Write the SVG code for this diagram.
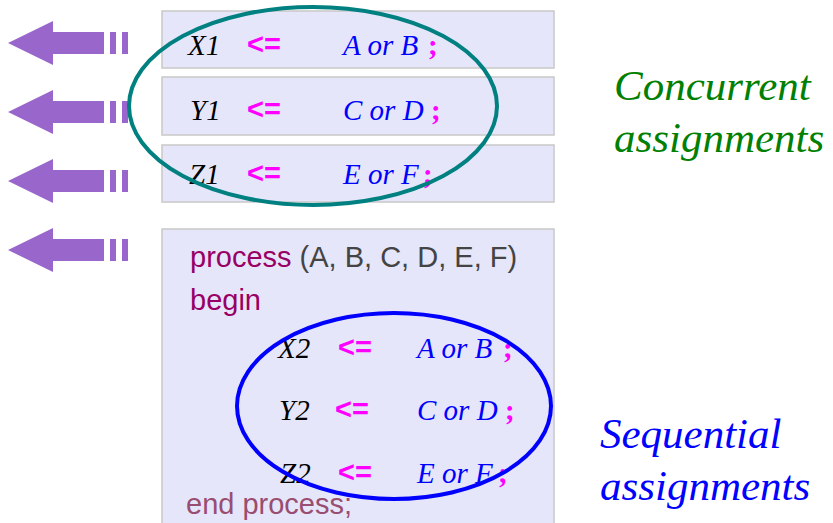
<svg xmlns="http://www.w3.org/2000/svg" width="833" height="523" viewBox="0 0 833 523">
<defs>
<style>
.box{fill:#e6e6fa;stroke:#c8c8c8;stroke-width:1.5}
.arr{fill:#9966cc}
.var{font-family:"Liberation Serif",serif;font-style:italic;font-size:29px;fill:#000}
.op{font-family:"Liberation Sans",sans-serif;font-weight:bold;font-size:29px;fill:#ff00ff}
.expr{font-family:"Liberation Serif",serif;font-style:italic;font-size:29px;fill:#0000ff}
.semi{font-family:"Liberation Serif",serif;font-weight:bold;font-size:29px;fill:#ff00ff}
.kw{font-family:"Liberation Sans",sans-serif;font-size:29px;fill:#990066}
.lbl{font-family:"Liberation Serif",serif;font-style:italic;font-size:43px}
</style>
<g id="arrowShape">
<polygon points="8,0 53,-22 53,-11 104,-11 104,11 53,11 53,22"/>
<rect x="110" y="-11" width="6" height="22"/>
<rect x="122" y="-11" width="6" height="22"/>
</g>
</defs>
<rect width="833" height="523" fill="#fff"/>
<g id="arrows" class="arr">
<use href="#arrowShape" y="43"/>
<use href="#arrowShape" y="112"/>
<use href="#arrowShape" y="181"/>
<use href="#arrowShape" y="250"/>
</g>
<g id="box-x1">
<rect class="box" x="162" y="11" width="392" height="57"/>
<text class="var" x="188" y="55">X1</text>
<text class="op" x="247" y="54">&lt;=</text>
<text class="expr" x="343" y="55">A or B</text>
<text class="semi" x="428" y="55">;</text>
</g>
<g id="box-y1">
<rect class="box" x="162" y="77" width="392" height="58"/>
<text class="var" x="190" y="120">Y1</text>
<text class="op" x="247" y="119">&lt;=</text>
<text class="expr" x="343" y="120">C or D</text>
<text class="semi" x="431" y="120">;</text>
</g>
<g id="box-z1">
<rect class="box" x="162" y="145" width="392" height="57"/>
<text class="var" x="189" y="184">Z1</text>
<text class="op" x="247" y="183">&lt;=</text>
<text class="expr" x="343" y="184">E or F</text>
<text class="semi" x="423" y="184">;</text>
</g>
<g id="process-box">
<rect class="box" x="162" y="229" width="392" height="300"/>
<text class="kw" x="190" y="267">process <tspan fill="#444444">(A, B, C, D, E, F)</tspan></text>
<text class="kw" x="190" y="310">begin</text>
<text class="var" x="278" y="358">X2</text>
<text class="op" x="338" y="357">&lt;=</text>
<text class="expr" x="417" y="358">A or B</text>
<text class="semi" x="503" y="358">;</text>
<text class="var" x="279" y="420">Y2</text>
<text class="op" x="335" y="419">&lt;=</text>
<text class="expr" x="417" y="420">C or D</text>
<text class="semi" x="505" y="420">;</text>
<text class="var" x="280" y="483">Z2</text>
<text class="op" x="338" y="482">&lt;=</text>
<text class="expr" x="417" y="483">E or F</text>
<text class="semi" x="498" y="483">;</text>
<text class="kw" x="186" y="514" style="fill:#994d70">end process;</text>
</g>
<g id="concurrent-ellipse">
<ellipse cx="313" cy="106" rx="184" ry="99" fill="none" stroke="#008080" stroke-width="4"/>
</g>
<g id="sequential-ellipse">
<ellipse cx="394" cy="406" rx="157" ry="93" fill="none" stroke="#0000ff" stroke-width="4"/>
</g>
<g id="labels">
<text class="lbl" x="614" y="100" fill="#008000">Concurrent</text>
<text class="lbl" x="614" y="152" fill="#008000">assignments</text>
<text class="lbl" x="600" y="448" fill="#0000ff">Sequential</text>
<text class="lbl" x="600" y="500" fill="#0000ff">assignments</text>
</g>
</svg>
